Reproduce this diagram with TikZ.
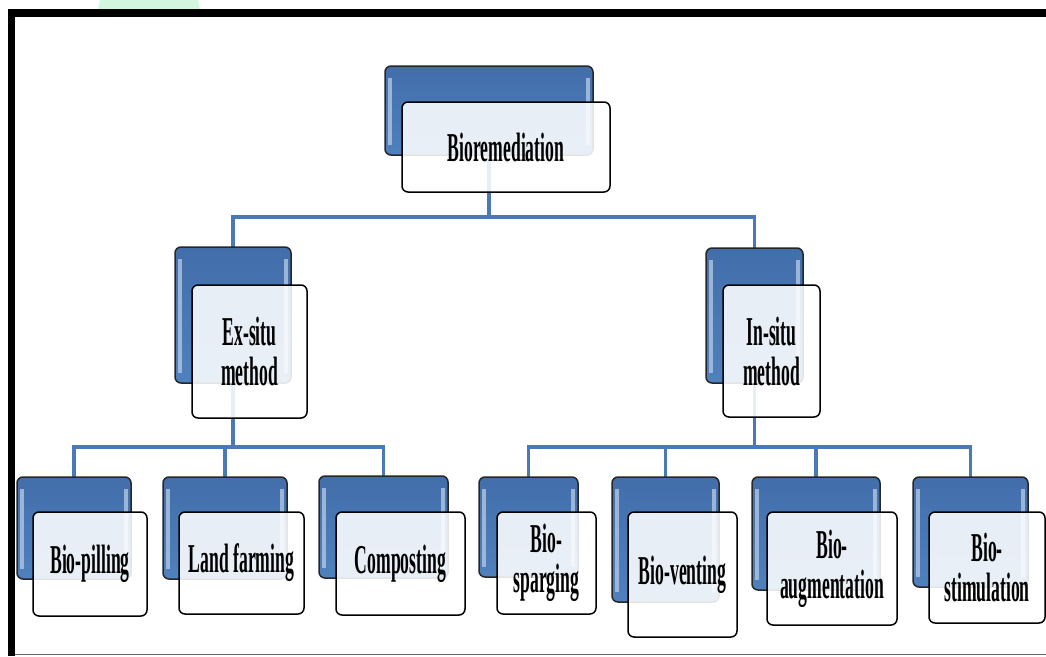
\documentclass[tikz,border=0pt]{standalone}
\usepackage{fontspec}
\setmainfont{Liberation Serif}[FakeStretch=0.43]
\usetikzlibrary{backgrounds}

\definecolor{boxblue}{RGB}{79,129,189}
\definecolor{boxtop}{RGB}{66,110,170}
\definecolor{linkblue}{RGB}{74,122,182}
\definecolor{wmgreen}{RGB}{211,246,223}

\tikzset{
    backbox/.style={
        draw=black!85,
        line width=1.5pt,
        rounded corners=6pt,
        top color=boxtop,
        middle color=boxblue,
        bottom color=boxblue,
        inner sep=0pt,
        outer sep=0pt,
        path picture={
            \fill[sharp corners,boxblue!45!white,opacity=0.8]
                ([xshift=3pt,yshift=-12pt]path picture bounding box.north west)
                rectangle ([xshift=7pt,yshift=10pt]path picture bounding box.south west);
            \fill[sharp corners,boxblue!45!white,opacity=0.8]
                ([xshift=-7pt,yshift=-12pt]path picture bounding box.north east)
                rectangle ([xshift=-3pt,yshift=10pt]path picture bounding box.south east);
        }
    },
    frontbox/.style={
        draw=black,
        line width=1.5pt,
        rounded corners=6pt,
        fill=white,
        fill opacity=0.88,
        text opacity=1,
        inner sep=0pt,
        outer sep=0pt,
        align=center,
        font=\fontsize{41}{40}\selectfont\bfseries
    },
    link/.style={draw=linkblue, line width=3.5pt}
}

\begin{document}
\begin{tikzpicture}[x=1pt,y=-1pt]
    \useasboundingbox (0,0) rectangle (1046,656);

    % page edge
    \fill[wmgreen] (98,9) -- (100,0) -- (198,0) -- (200,9) -- cycle;
    \fill[black] (8,9) rectangle (1046,17);
    \fill[black] (8,9) rectangle (15,656);
    \draw[black!60, line width=1pt] (15,654.5) -- (1046,654.5);

    % top
    \node[
        backbox,
        minimum width=208pt,
        minimum height=89pt,
        name=bio-b
    ] at (489,110.5) {};
    \node[
        frontbox,
        minimum width=208pt,
        minimum height=90pt,
        name=bio
    ] at (506,147) {Bioremediation};

    % second level
    \node[
        backbox,
        minimum width=116pt,
        minimum height=136pt,
        name=ex-b
    ] at (233,315) {};
    \node[
        frontbox,
        minimum width=115pt,
        minimum height=133pt,
        name=ex
    ] at (249.5,351.5) {Ex-situ\\method};

    \node[
        backbox,
        minimum width=97pt,
        minimum height=135pt,
        name=in-b
    ] at (754.5,315.5) {};
    \node[
        frontbox,
        minimum width=97pt,
        minimum height=132pt,
        name=in
    ] at (771.5,351) {In-situ\\method};

    % ex-situ children
    \node[
        backbox,
        minimum width=114pt,
        minimum height=102pt,
        name=pil-b
    ] at (74,528) {};
    \node[
        frontbox,
        minimum width=114pt,
        minimum height=104pt,
        name=pil
    ] at (90,564) {Bio-pilling};

    \node[
        backbox,
        minimum width=124pt,
        minimum height=102pt,
        name=land-b
    ] at (225,528) {};
    \node[
        frontbox,
        minimum width=125pt,
        minimum height=102pt,
        name=land
    ] at (241.5,563) {Land farming};

    \node[
        backbox,
        minimum width=129pt,
        minimum height=102pt,
        name=comp-b
    ] at (383.5,527) {};
    \node[
        frontbox,
        minimum width=129pt,
        minimum height=103pt,
        name=comp
    ] at (400.5,563.5) {Composting};

    % in-situ children
    \node[
        backbox,
        minimum width=99pt,
        minimum height=100pt,
        name=spar-b
    ] at (528.5,527) {};
    \node[
        frontbox,
        minimum width=99pt,
        minimum height=102pt,
        name=spar
    ] at (546.5,563) {Bio-\\sparging};

    \node[
        backbox,
        minimum width=107pt,
        minimum height=125pt,
        name=vent-b
    ] at (665.5,539.5) {};
    \node[
        frontbox,
        minimum width=109pt,
        minimum height=125pt,
        name=vent
    ] at (682.5,574.5) {Bio-venting};

    \node[
        backbox,
        minimum width=128pt,
        minimum height=113pt,
        name=aug-b
    ] at (816,533.5) {};
    \node[
        frontbox,
        minimum width=130pt,
        minimum height=113pt,
        name=aug
    ] at (832,568.5) {Bio-\\augmentation};

    \node[
        backbox,
        minimum width=115pt,
        minimum height=110pt,
        name=stim-b
    ] at (970.5,532) {};
    \node[
        frontbox,
        minimum width=116pt,
        minimum height=111pt,
        name=stim
    ] at (987,567.5) {Bio-\\stimulation};

    % links, behind the boxes
    \coordinate (top-bus) at (489,217);
    \coordinate (ex-bus) at (233,447);
    \coordinate (in-bus) at (754.5,447);

    \begin{scope}[on background layer]
        \draw[link] (bio-b.center) -- (top-bus);
        \draw[link] (ex-b.center) |- (top-bus) -| (in-b.center);

        \draw[link] (ex-b.center) -- (ex-bus);
        \draw[link] (pil-b.center) |- (ex-bus) -| (comp-b.center);
        \draw[link] (land-b.center) -- (land-b |- ex-bus);

        \draw[link] (in-b.center) -- (in-bus);
        \draw[link] (spar-b.center) |- (in-bus) -| (stim-b.center);
        \draw[link] (vent-b.center) -- (vent-b |- in-bus);
        \draw[link] (aug-b.center) -- (aug-b |- in-bus);
    \end{scope}
\end{tikzpicture}
\end{document}
